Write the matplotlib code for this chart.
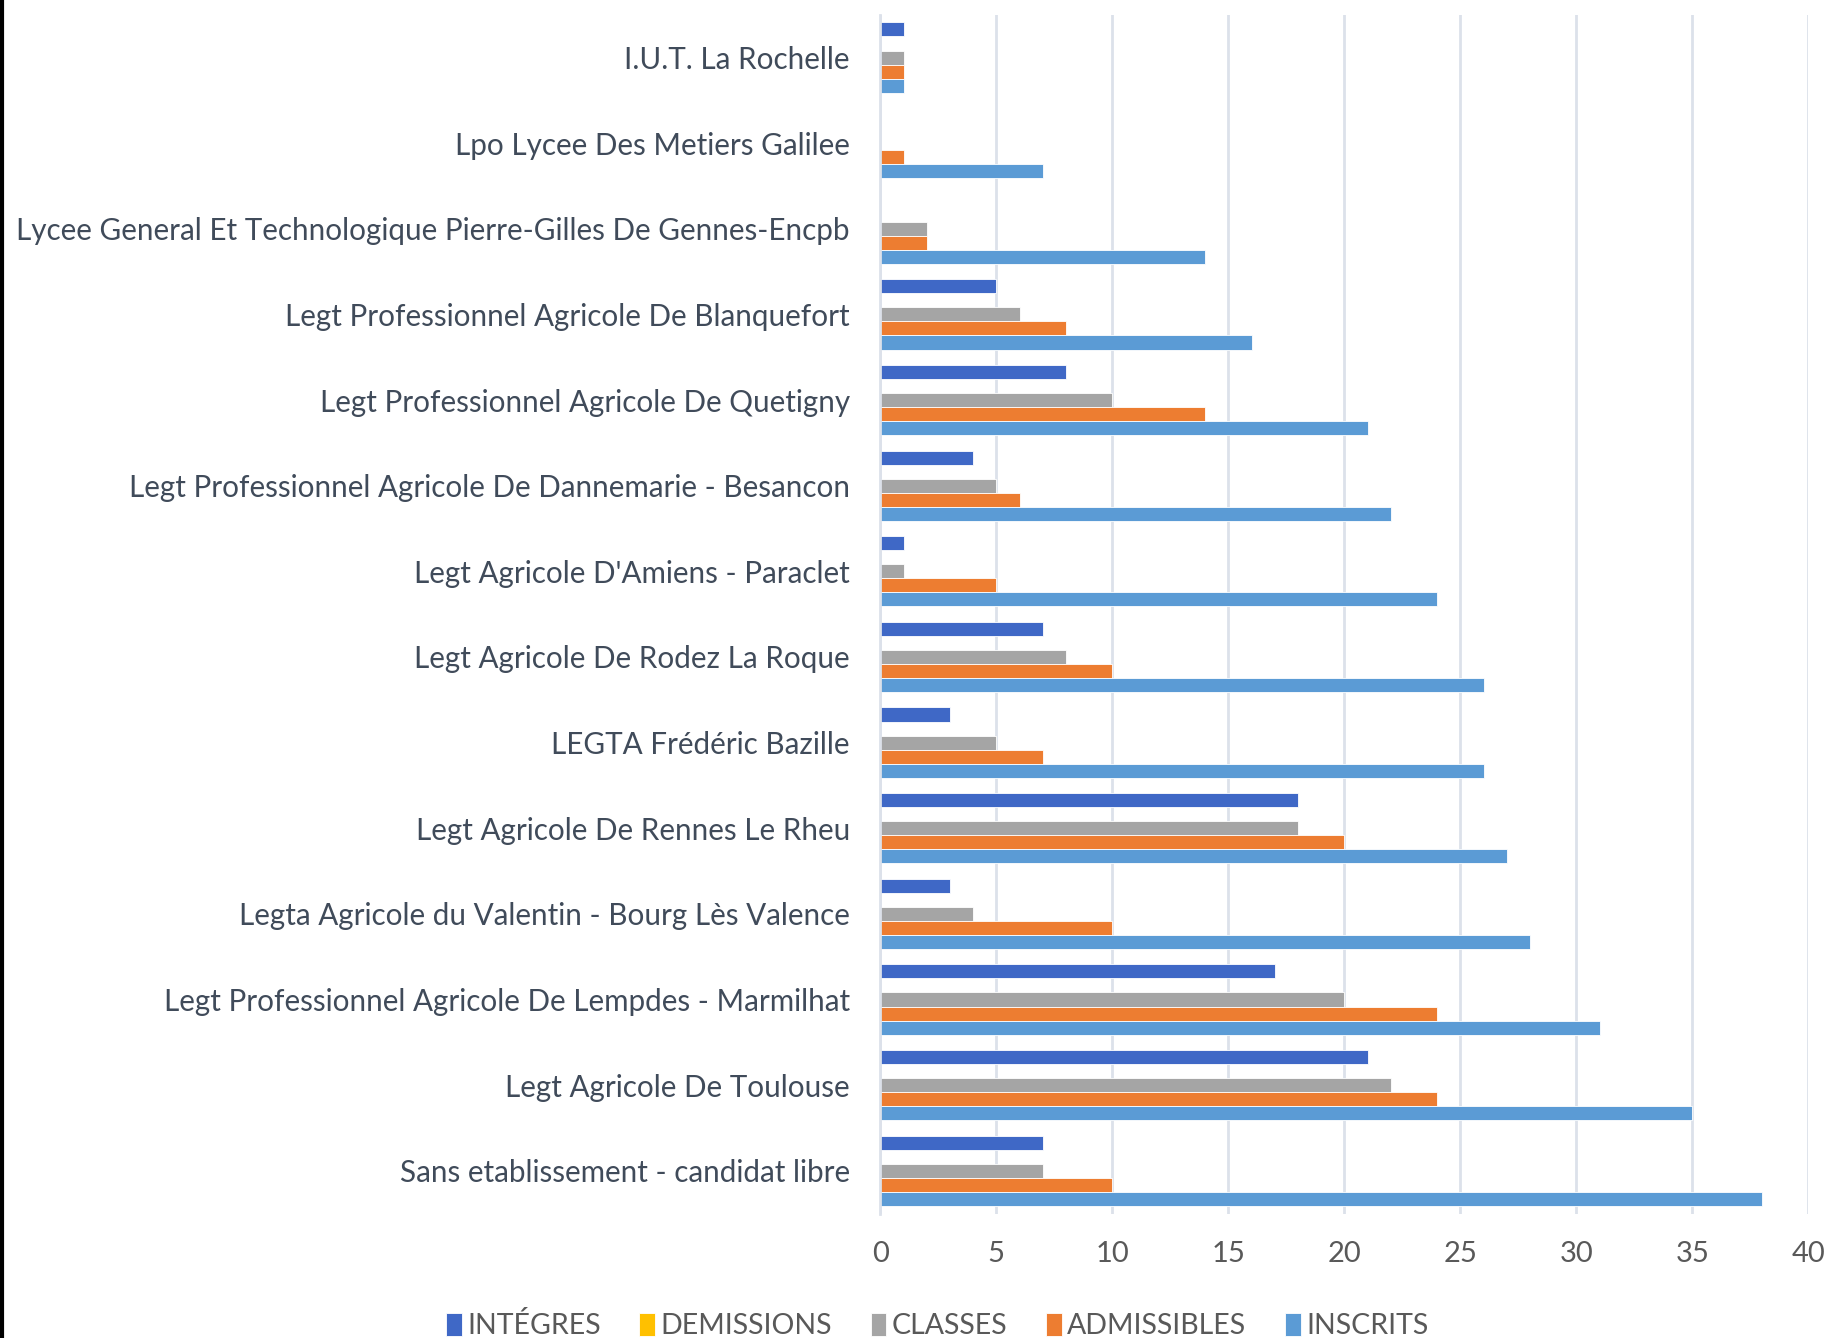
import numpy as np
import matplotlib.pyplot as plt
from matplotlib.lines import Line2D

etablissements = [
    "I.U.T. La Rochelle",
    "Lpo Lycee Des Metiers Galilee",
    "Lycee General Et Technologique Pierre-Gilles De Gennes-Encpb",
    "Legt Professionnel Agricole De Blanquefort",
    "Legt Professionnel Agricole De Quetigny",
    "Legt Professionnel Agricole De Dannemarie - Besancon",
    "Legt Agricole D'Amiens - Paraclet",
    "Legt Agricole De Rodez La Roque",
    "LEGTA Frédéric Bazille",
    "Legt Agricole De Rennes Le Rheu",
    "Legta Agricole du Valentin - Bourg Lès Valence",
    "Legt Professionnel Agricole De Lempdes - Marmilhat",
    "Legt Agricole De Toulouse",
    "Sans etablissement - candidat libre",
]
integres = [1, 0, 0, 5, 8, 4, 1, 7, 3, 18, 3, 17, 21, 7]
demissions = [0, 0, 0, 0, 0, 0, 0, 0, 0, 0, 0, 0, 0, 0]
classes = [1, 0, 2, 6, 10, 5, 1, 8, 5, 18, 4, 20, 22, 7]
admissibles = [1, 1, 2, 8, 14, 6, 5, 10, 7, 20, 10, 24, 24, 10]
inscrits = [1, 7, 14, 16, 21, 22, 24, 26, 26, 27, 28, 31, 35, 38]

series = [
    ("INTÉGRES", integres, "#3f68c6"),
    ("DEMISSIONS", demissions, "#ffc000"),
    ("CLASSES", classes, "#a5a5a5"),
    ("ADMISSIBLES", admissibles, "#ed7d31"),
    ("INSCRITS", inscrits, "#5b9bd5"),
]

plt.rcParams["font.family"] = ["Lato", "DejaVu Sans"]

fig = plt.figure(figsize=(18.34, 13.38), dpi=100)
ax = fig.add_axes([0.48, 0.093, 0.506, 0.896])

n = len(etablissements)
pos = np.arange(n)[::-1]
h = 0.164
for i, (name, vals, col) in enumerate(series):
    off = (2 - i) * h
    ax.barh(pos + off, vals, height=h, color=col, label=name,
            edgecolor="white", linewidth=0.6)

ax.set_ylim(-0.5, n - 0.5)
ax.set_xlim(0, 40)
ax.set_xticks(range(0, 41, 5))
ax.set_yticks(pos)
ax.set_yticklabels(etablissements, fontsize=21.3, color="#404b5a")
ax.tick_params(axis="y", length=0, pad=22)
ax.tick_params(axis="x", length=0, pad=20, labelsize=21, labelcolor="#595959")
ax.grid(axis="x", color="#dce1ea", linewidth=2)
ax.set_axisbelow(True)
for s in ["top", "right", "bottom"]:
    ax.spines[s].set_visible(False)
ax.spines["left"].set_color("#dce1ea")
ax.spines["left"].set_linewidth(2)

fig.legend(loc="center", bbox_to_anchor=(0.511, 0.009), ncol=5, frameon=False,
           fontsize=20.5, handlelength=0.55, handleheight=0.9, handletextpad=0.2,
           columnspacing=1.35, labelcolor="#595959")

fig.add_artist(Line2D([0.001, 0.001], [0, 1], transform=fig.transFigure,
                      color="black", linewidth=3))

fig.savefig("out.png", dpi=100)
